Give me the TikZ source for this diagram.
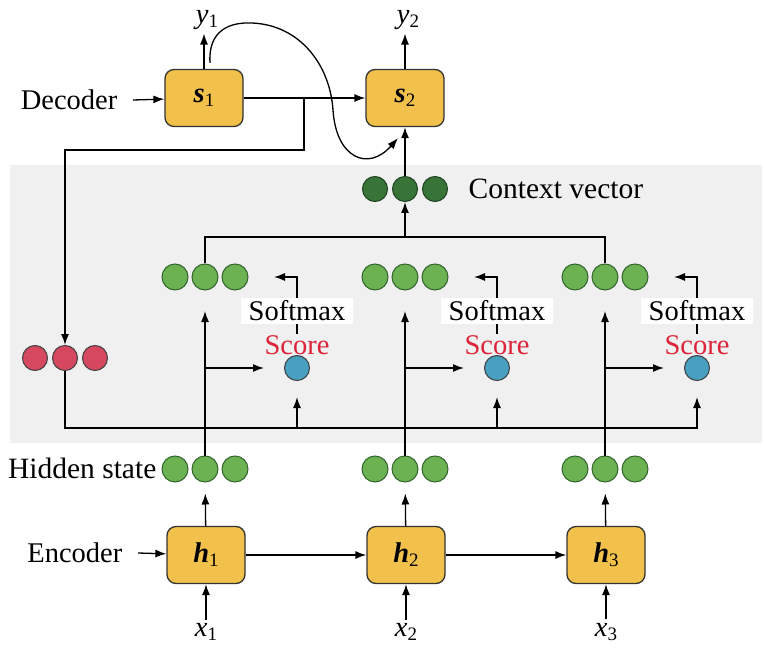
\documentclass[tikz,border=0pt]{standalone}
\usepackage{fontspec}
\setmainfont{Liberation Serif}
\usetikzlibrary{arrows.meta}

\definecolor{cellfill}{RGB}{242,193,75}
\definecolor{panel}{RGB}{240,240,240}
\definecolor{leaf}{RGB}{108,178,82}
\definecolor{leafline}{RGB}{50,100,45}
\definecolor{deepleaf}{RGB}{56,116,56}
\definecolor{deepline}{RGB}{30,66,30}
\definecolor{rose}{RGB}{214,72,96}
\definecolor{sea}{RGB}{72,160,192}
\definecolor{scorered}{RGB}{220,36,56}

\newcommand{\vsub}[2]{\textit{#1}\raisebox{-0.3ex}{\fontsize{19}{20}\selectfont #2}}
\newcommand{\bsub}[2]{\textbf{\textit{#1}}\raisebox{-0.3ex}{\fontsize{19}{20}\selectfont #2}}

\begin{document}
\begin{tikzpicture}[x=1pt,y=-1pt,line width=1.3pt,>={Latex[length=11pt,width=8pt]},
  font=\fontsize{28.5}{30}\selectfont,
  cell/.style={draw=black!80,fill=cellfill,rounded corners=9pt,minimum width=78pt,minimum height=57pt,inner sep=0pt},
  dot/.style={circle,draw=black!75,line width=1pt,minimum size=26pt,inner sep=0pt},
  hid/.style={dot,fill=leaf,draw=leafline},
  ctx/.style={dot,fill=deepleaf,draw=deepline,minimum size=25pt},
  qry/.style={dot,fill=rose,minimum size=25pt},
  sco/.style={dot,fill=sea,minimum size=25pt},
  side/.style={anchor=east,inner xsep=0pt},
  softbox/.style={fill=white,inner xsep=8pt,inner ysep=3pt},
  scolab/.style={text=scorered,inner sep=1pt}]
\useasboundingbox (0,0) rectangle (764,650);
\fill[panel] (10,165) rectangle (762,443);

% decoder
\node[cell] (s1) at (204,98) {\bsub{s}{1}};
\node[cell] (s2) at (405,98) {\bsub{s}{2}};
\node (y1) at (207,20) {\vsub{y}{1}};
\node (y2) at (408,20) {\vsub{y}{2}};
\node[side] (dec) at (118,100) {Decoder};
\draw [->] ([xshift=15pt]dec.east) -- (s1);
\draw [->] (s1) -- (s2);
\draw [->] (s1.north) -- (s1.north |- y1.south);
\draw [->] (s2.north) -- (s2.north |- y2.south);
\draw [->] ([shift={(6,-6)}]s1.north) .. controls (208,30) and (230,22) .. (252,23)
	.. controls (300,25) and (330,65) .. (333,110)
	.. controls (336,158) and (368,172) .. ([shift={(-7,11)}]s2.south);

% query vector
\node[qry] (r1) at (35,358) {};
\node[qry] (r2) at (65,358) {};
\node[qry] (r3) at (95,358) {};
\coordinate (tap) at (304,98);
\coordinate (bend) at (304,150);
\draw [->] (tap) -- (bend) -| (r2);

% context vector
\node[ctx] (c1) at (375,189) {};
\node[ctx] (c2) at (405,189) {};
\node[ctx] (c3) at (435,189) {};
\node[anchor=west,inner xsep=0pt,font=\fontsize{29.5}{31}\selectfont] (ctxlab) at (468,189) {Context vector};
\draw [->] (c2) -- (s2);

% weighted states
\node[hid] (a11) at (175,277) {};
\node[hid] (a12) at (205,277) {};
\node[hid] (a13) at (235,277) {};
\node[hid] (a21) at (375,277) {};
\node[hid] (a22) at (405,277) {};
\node[hid] (a23) at (435,277) {};
\node[hid] (a31) at (575,277) {};
\node[hid] (a32) at (605,277) {};
\node[hid] (a33) at (635,277) {};
\coordinate (join) at (405,237);
\draw (a12) |- (join) -| (a32);
\draw [->] (join) -- (c2);

% scores
\node[sco] (sc1) at (297,368) {};
\node[sco] (sc2) at (497,368) {};
\node[sco] (sc3) at (697,368) {};
\node[scolab] (scl1) at (297,345) {Score};
\node[scolab] (scl2) at (497,345) {Score};
\node[scolab] (scl3) at (697,345) {Score};
\coordinate (w1) at (274,277);
\coordinate (w2) at (474,277);
\coordinate (w3) at (674,277);
\draw [->] (scl1) |- (w1);
\draw [->] (scl2) |- (w2);
\draw [->] (scl3) |- (w3);
\node[softbox] (sm1) at (297,311) {Softmax};
\node[softbox] (sm2) at (497,311) {Softmax};
\node[softbox] (sm3) at (697,311) {Softmax};

% query to every score
\coordinate (low) at (65,428);
\coordinate (m1) at (297,428);
\coordinate (m2) at (497,428);
\coordinate (q1) at (297,397);
\coordinate (q2) at (497,397);
\coordinate (q3) at (697,397);
\draw [->] (r2) -- (low) -| (q3);
\draw [->] (m1) -- (q1);
\draw [->] (m2) -- (q2);

% hidden states
\node[side,font=\fontsize{29.5}{31}\selectfont] (hidlab) at (157,468) {Hidden state};
\node[hid] (e11) at (175,469) {};
\node[hid] (e12) at (205,469) {};
\node[hid] (e13) at (235,469) {};
\node[hid] (e21) at (375,469) {};
\node[hid] (e22) at (405,469) {};
\node[hid] (e23) at (435,469) {};
\node[hid] (e31) at (575,469) {};
\node[hid] (e32) at (605,469) {};
\node[hid] (e33) at (635,469) {};
\coordinate (t1) at (205,311);
\coordinate (t2) at (405,311);
\coordinate (t3) at (605,311);
\draw [->] (e12) -- (t1);
\draw [->] (e22) -- (t2);
\draw [->] (e32) -- (t3);
\coordinate (b1) at (205,368);
\coordinate (b2) at (405,368);
\coordinate (b3) at (605,368);
\coordinate (p1) at (264,368);
\coordinate (p2) at (464,368);
\coordinate (p3) at (664,368);
\draw [->] (b1) -- (p1);
\draw [->] (b2) -- (p2);
\draw [->] (b3) -- (p3);

% encoder
\node[cell] (h1) at (206,555) {\bsub{h}{1}};
\node[cell] (h2) at (406,555) {\bsub{h}{2}};
\node[cell] (h3) at (606,555) {\bsub{h}{3}};
\node[side] (enc) at (123,553) {Encoder};
\node (x1) at (206,632) {\vsub{x}{1}};
\node (x2) at (406,632) {\vsub{x}{2}};
\node (x3) at (606,632) {\vsub{x}{3}};
\draw [->] ([xshift=15pt]enc.east) -- (h1);
\draw [->] (h1) -- (h2);
\draw [->] (h2) -- (h3);
\draw [->,shorten >=11pt] (h1) -- (e12);
\draw [->,shorten >=11pt] (h2) -- (e22);
\draw [->,shorten >=11pt] (h3) -- (e32);
\draw [->] (x1) -- (h1);
\draw [->] (x2) -- (h2);
\draw [->] (x3) -- (h3);
\end{tikzpicture}
\end{document}
